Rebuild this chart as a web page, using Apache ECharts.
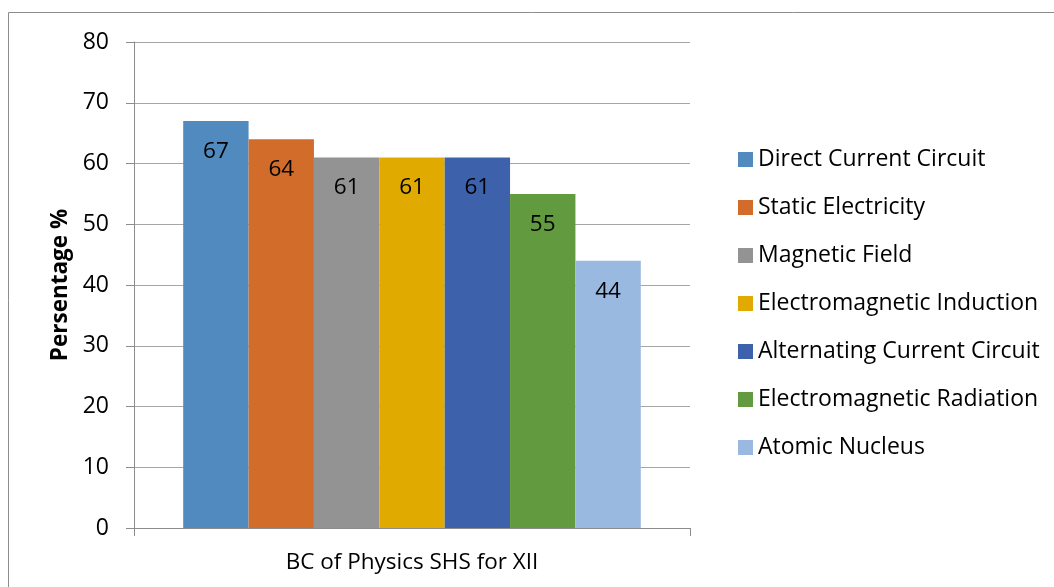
<!DOCTYPE html>
<html><head><meta charset="utf-8">
<script src="https://cdn.jsdelivr.net/npm/echarts@6/dist/echarts.min.js"></script>
<style>html,body{margin:0;padding:0;background:#fff}#c{width:1054px;height:587px}</style>
</head><body><div id="c"></div>
<script>
const categories = ['BC of Physics SHS for XII'];
const seriesNames = ['Direct Current Circuit','Static Electricity','Magnetic Field','Electromagnetic Induction','Alternating Current Circuit','Electromagnetic Radiation','Atomic Nucleus'];
const seriesValues = [67, 64, 61, 61, 61, 55, 44];
const seriesColors = ['#508ABE','#D26C2A','#939393','#E1AA00','#3D62AB','#629A3F','#99B9E0'];
const yTicks = [0,10,20,30,40,50,60,70,80];
const FONT = 'Open Sans';
const chart = echarts.init(document.getElementById('c'));
chart.setOption({
  animation:false,
  textStyle:{fontFamily:FONT},
  graphic:[{type:'rect',shape:{x:8.5,y:12.5,width:1200,height:800},style:{fill:null,stroke:'#8c8c8c',lineWidth:1},silent:true}],
  grid:{left:134,right:364,top:42,bottom:59,containLabel:false},
  legend:{orient:'vertical',left:733,top:143,itemWidth:15,itemHeight:15,itemGap:25,icon:'rect',
    textStyle:{fontFamily:FONT,fontSize:23,color:'#000',padding:[0,0,0,0]},
    data:seriesNames},
  xAxis:{type:'category',data:categories,
    axisLine:{lineStyle:{color:'#8c8c8c'}},
    axisTick:{show:true,length:8,lineStyle:{color:'#8c8c8c'}},
    axisLabel:{fontFamily:FONT,fontSize:22.5,color:'#000',margin:23}},
  yAxis:{type:'value',min:0,max:80,interval:10,
    name:'Persentage %',nameLocation:'middle',nameGap:61,nameRotate:90,
    nameTextStyle:{fontFamily:FONT,fontSize:22.5,fontWeight:'bold',color:'#000'},
    axisLine:{show:true,lineStyle:{color:'#8c8c8c'}},
    axisTick:{show:true,length:8,lineStyle:{color:'#8c8c8c'}},
    axisLabel:{fontFamily:FONT,fontSize:23,color:'#000',margin:25,formatter:v=>yTicks.includes(v)?String(v):''},
    splitLine:{lineStyle:{color:'#a6a6a6',width:1}}},
  series: seriesNames.map((n,i)=>({
    name:n,type:'bar',data:[seriesValues[i]],
    barGap:'0%',barCategoryGap:'17.7%',
    itemStyle:{color:seriesColors[i]},
    label:{show:true,position:'insideTop',distance:19,fontFamily:FONT,fontSize:22.5,color:'#000'}
  }))
});
</script></body></html>
